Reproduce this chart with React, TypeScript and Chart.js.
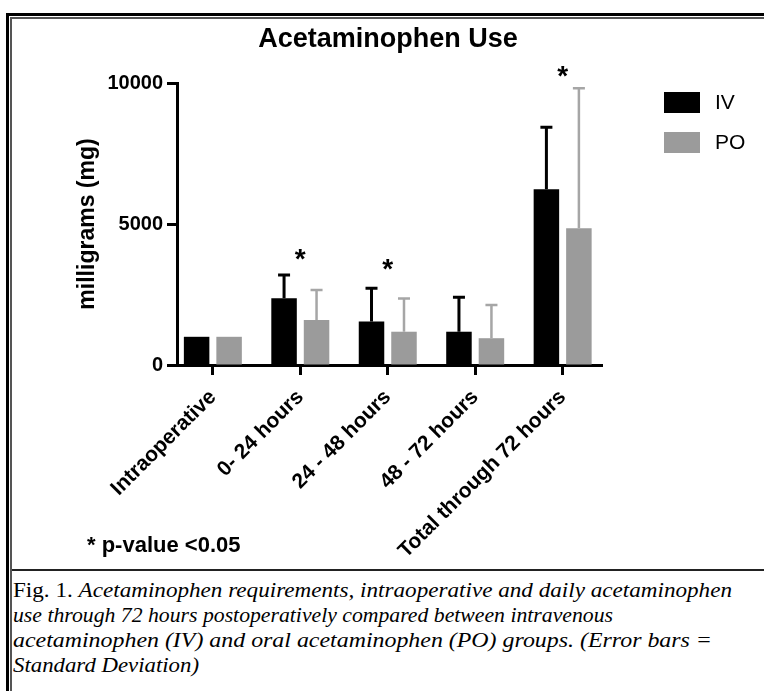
import React, { useEffect, useLayoutEffect, useRef } from "react";
import { Chart, registerables } from "chart.js";

Chart.register(...registerables);

// ---- data ----
const categories = ["Intraoperative", "0- 24 hours", "24 - 48 hours", "48 - 72 hours", "Total through 72 hours"];
const seriesNames = ["IV", "PO"];
const ivMeans = [1000, 2370, 1540, 1180, 6230];
const ivSD = [0, 820, 1180, 1220, 2200];
const poMeans = [1000, 1600, 1180, 950, 4850];
const poSD = [0, 1060, 1180, 1180, 4960];
const significant = [false, true, true, false, true];
const asteriskLevels = [0, 4020, 3660, 0, 10490];
const yTicks = [0, 5000, 10000];
const chartTitle = "Acetaminophen Use";
const yTitle = "milligrams (mg)";
const footnote = "* p-value <0.05";

const SANS = "'Liberation Sans', Arial, Helvetica, sans-serif";
const SERIF = "'Liberation Serif', 'Times New Roman', serif";

const errorBarsPlugin = {
  id: "errorBars",
  afterDatasetsDraw(chart: any) {
    const ctx = chart.ctx;
    const yScale = chart.scales.y;
    chart.data.datasets.forEach((ds: any, di: number) => {
      const meta = chart.getDatasetMeta(di);
      meta.data.forEach((bar: any, i: number) => {
        const sd = ds.sd[i];
        if (!sd) return;
        const top = yScale.getPixelForValue(ds.data[i] + sd);
        ctx.save();
        ctx.strokeStyle = ds.errorColor;
        ctx.lineWidth = ds.errorWidth;
        ctx.beginPath();
        ctx.moveTo(bar.x, bar.y);
        ctx.lineTo(bar.x, top);
        ctx.moveTo(bar.x - 6, top);
        ctx.lineTo(bar.x + 6, top);
        ctx.stroke();
        ctx.restore();
      });
    });
  },
};

const annotationsPlugin = {
  id: "annotations",
  afterDraw(chart: any) {
    const ctx = chart.ctx;
    const xScale = chart.scales.x;
    const yScale = chart.scales.y;
    ctx.save();
    // title
    ctx.font = `bold 27px ${SANS}`;
    ctx.fillStyle = "#000";
    ctx.textAlign = "center";
    ctx.textBaseline = "middle";
    ctx.fillText(chartTitle, chart.width / 2, 21);
    // significance asterisks
    const fs = 28;
    ctx.font = `bold ${fs}px ${SANS}`;
    ctx.textBaseline = "alphabetic";
    significant.forEach((s, i) => {
      if (!s) return;
      const x = xScale.getPixelForValue(i);
      const y = yScale.getPixelForValue(asteriskLevels[i]);
      ctx.fillText("*", x, y + 0.57 * fs);
    });
    // legend
    ctx.font = `21px ${SANS}`;
    ctx.textAlign = "left";
    ctx.textBaseline = "middle";
    chart.data.datasets.forEach((ds: any, di: number) => {
      const bx = 652;
      const by = 73 + di * 40;
      ctx.fillStyle = ds.backgroundColor;
      ctx.fillRect(bx, by, 36, 21);
      ctx.fillStyle = "#000";
      ctx.fillText(ds.label, bx + 51, by + 11);
    });
    ctx.restore();
  },
};

function ChartCanvas() {
  const ref = useRef<HTMLCanvasElement | null>(null);
  useEffect(() => {
    if (!ref.current) return;
    Chart.defaults.font.family = SANS;
    const chart = new Chart(ref.current, {
      type: "bar",
      data: {
        labels: categories,
        datasets: [
          {
            label: seriesNames[0],
            data: ivMeans,
            backgroundColor: "#000000",
            borderWidth: 0,
            sd: ivSD,
            errorColor: "#000000",
            errorWidth: 3,
          } as any,
          {
            label: seriesNames[1],
            data: poMeans,
            backgroundColor: "#9b9b9b",
            borderWidth: 0,
            sd: poSD,
            errorColor: "#a6a6a6",
            errorWidth: 2.5,
          } as any,
        ],
      },
      options: {
        animation: false,
        responsive: false,
        maintainAspectRatio: false,
        layout: { padding: { left: 62, right: 162, top: 64, bottom: 4 } },
        datasets: { bar: { categoryPercentage: 0.743, barPercentage: 0.785 } },
        plugins: {
          legend: { display: false },
          tooltip: { enabled: false },
          title: { display: false },
        },
        scales: {
          x: {
            type: "category",
            offset: false,
            afterBuildTicks: (scale: any) => {
              scale._startValue = -0.41;
              scale._valueRange = 4.86;
            },
            afterFit: (scale: any) => {
              scale.height = 200;
            },
            border: { display: true, color: "#000", width: 3 },
            grid: {
              offset: false,
              drawOnChartArea: false,
              drawTicks: true,
              tickLength: 10,
              tickWidth: 3,
              tickColor: "#000",
              color: "#000",
            },
            ticks: {
              autoSkip: false,
              maxRotation: 45,
              minRotation: 45,
              padding: 10,
              color: "#000",
              font: { size: 21, weight: "bold", family: SANS },
            },
          },
          y: {
            min: 0,
            max: 10000,
            afterFit: (scale: any) => {
              scale.width = 103;
            },
            afterBuildTicks: (scale: any) => {
              scale.ticks = yTicks.map((v) => ({ value: v }));
            },
            border: { display: true, color: "#000", width: 3 },
            grid: {
              drawOnChartArea: false,
              drawTicks: true,
              tickLength: 10,
              tickWidth: 3,
              tickColor: "#000",
              color: "#000",
            },
            ticks: {
              padding: 4,
              color: "#000",
              font: { size: 20, weight: "bold", family: SANS },
              callback: (v: any) => String(v),
            },
            title: {
              display: true,
              text: yTitle,
              color: "#000",
              padding: { top: 0, bottom: 0 },
              font: { size: 23, weight: "bold", family: SANS },
            },
          },
        },
      },
      plugins: [errorBarsPlugin, annotationsPlugin],
    } as any);
    return () => chart.destroy();
  }, []);
  return (
    <canvas
      ref={ref}
      width={752}
      height={550}
      style={{ position: "absolute", left: 12, top: 19, width: 752, height: 550, display: "block" }}
    />
  );
}

const captionTargets = [719, 600, 699, 186];

function Caption() {
  const refs = useRef<(HTMLSpanElement | null)[]>([]);
  useLayoutEffect(() => {
    refs.current.forEach((el, i) => {
      if (!el) return;
      el.style.transform = "none";
      const w = el.getBoundingClientRect().width;
      if (w > 0) el.style.transform = `scaleX(${captionTargets[i] / w})`;
    });
  }, []);
  const lineStyle: React.CSSProperties = {
    display: "inline-block",
    transformOrigin: "0 50%",
    whiteSpace: "nowrap",
  };
  const lines = [
    <>
      Fig. 1. <i>Acetaminophen requirements, intraoperative and daily acetaminophen</i>
    </>,
    <i>use through 72 hours postoperatively compared between intravenous</i>,
    <i>acetaminophen (IV) and oral acetaminophen (PO) groups. (Error bars =</i>,
    <i>Standard Deviation)</i>,
  ];
  return (
    <div
      style={{
        position: "absolute",
        left: 13,
        top: 577,
        fontFamily: SERIF,
        fontSize: 22,
        lineHeight: "25px",
        color: "#000",
      }}
    >
      {lines.map((l, i) => (
        <div key={i}>
          <span ref={(el) => { refs.current[i] = el; }} style={lineStyle}>
            {l}
          </span>
        </div>
      ))}
    </div>
  );
}

export default function App() {
  const line = (style: React.CSSProperties) => ({ position: "absolute" as const, ...style });
  return (
    <div
      style={{
        position: "absolute",
        left: 0,
        top: 0,
        width: 764,
        height: 691,
        overflow: "hidden",
        background: "#fff",
      }}
    >
      <div style={line({ left: 6, top: 13, width: 3, height: 700, background: "#000" })} />
      <div style={line({ left: 6, top: 13, width: 770, height: 3, background: "#000" })} />
      <div style={line({ left: 10, top: 17, width: 2, height: 700, background: "#555" })} />
      <div style={line({ left: 10, top: 17, width: 770, height: 2, background: "#555" })} />
      <ChartCanvas />
      <div
        style={line({
          left: 87,
          top: 533,
          fontFamily: SANS,
          fontWeight: "bold",
          fontSize: 22,
          lineHeight: "24px",
          color: "#000",
          whiteSpace: "nowrap",
        })}
      >
        {footnote}
      </div>
      <div style={line({ left: 12, top: 569, width: 770, height: 2, background: "#222" })} />
      <Caption />
    </div>
  );
}
